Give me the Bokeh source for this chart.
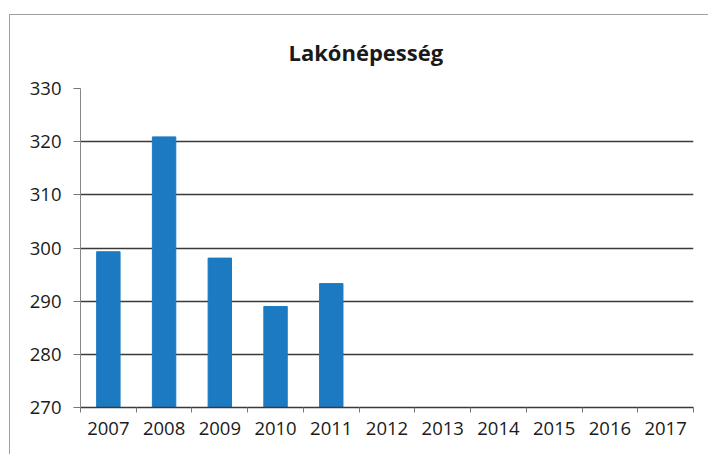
from bokeh.plotting import figure
from bokeh.models import ColumnDataSource, FixedTicker, Range1d
from bokeh.embed import file_html
from bokeh.resources import INLINE

years = ["2007", "2008", "2009", "2010", "2011", "2012", "2013", "2014", "2015", "2016", "2017"]
values = [299.3, 320.9, 298.1, 289.0, 293.3]
y_ticks = [270, 280, 290, 300, 310, 320, 330]
title_text = "Lakónépesség"

xpos = [i + 0.5 for i in range(len(values))]
src = ColumnDataSource(dict(x=xpos, top=values))

p = figure(width=699, height=440, output_backend="svg", toolbar_location=None,
           x_range=Range1d(0, len(years)), y_range=Range1d(270, 330),
           min_border_left=70, min_border_right=16, min_border_top=73, min_border_bottom=48,
           title=title_text)
p.styles = {"margin-left": "9px", "margin-top": "14px",
            "border-top": "1px solid #a0a0a0", "border-left": "1px solid #a0a0a0"}
p.title.align = "left"
p.title.offset = 208
p.title.vertical_align = "top"
p.title.text_font = "Open Sans"
p.title.text_font_size = "22px"
p.title.text_font_style = "bold"
p.title.text_color = "#1a1a1a"
p.title.standoff = 40
p.outline_line_color = None

p.vbar(x="x", top="top", bottom=270, width=0.42, source=src, color="#1c7ac2")

p.xgrid.visible = False
p.ygrid.ticker = FixedTicker(ticks=y_ticks[1:])
p.ygrid.grid_line_color = "#3a3a3a"
p.ygrid.grid_line_width = 1.5

p.xaxis.ticker = FixedTicker(ticks=[i + 0.5 for i in range(len(years))],
                             minor_ticks=list(range(len(years) + 1)))
p.xaxis.major_label_overrides = {i + 0.5: y for i, y in enumerate(years)}
p.xaxis.major_tick_out = 0
p.xaxis.major_tick_in = 0
p.xaxis.minor_tick_out = 5
p.xaxis.minor_tick_in = 0
p.xaxis.minor_tick_line_color = "#777777"
p.xaxis.axis_line_color = "#3a3a3a"
p.xaxis.axis_line_width = 1.5
p.xaxis.major_label_standoff = 9

p.yaxis.ticker = FixedTicker(ticks=y_ticks)
p.yaxis.major_tick_out = 7
p.yaxis.major_tick_in = 0
p.yaxis.minor_tick_out = 0
p.yaxis.minor_tick_in = 0
p.yaxis.major_tick_line_color = "#777777"
p.yaxis.axis_line_color = "#888888"
p.yaxis.major_label_standoff = 12

for ax in (p.xaxis, p.yaxis):
    ax.major_label_text_font = "Open Sans"
    ax.major_label_text_font_size = "18.5px"
    ax.major_label_text_color = "#1a1a1a"

open("out.html", "w").write(file_html(p, INLINE))
